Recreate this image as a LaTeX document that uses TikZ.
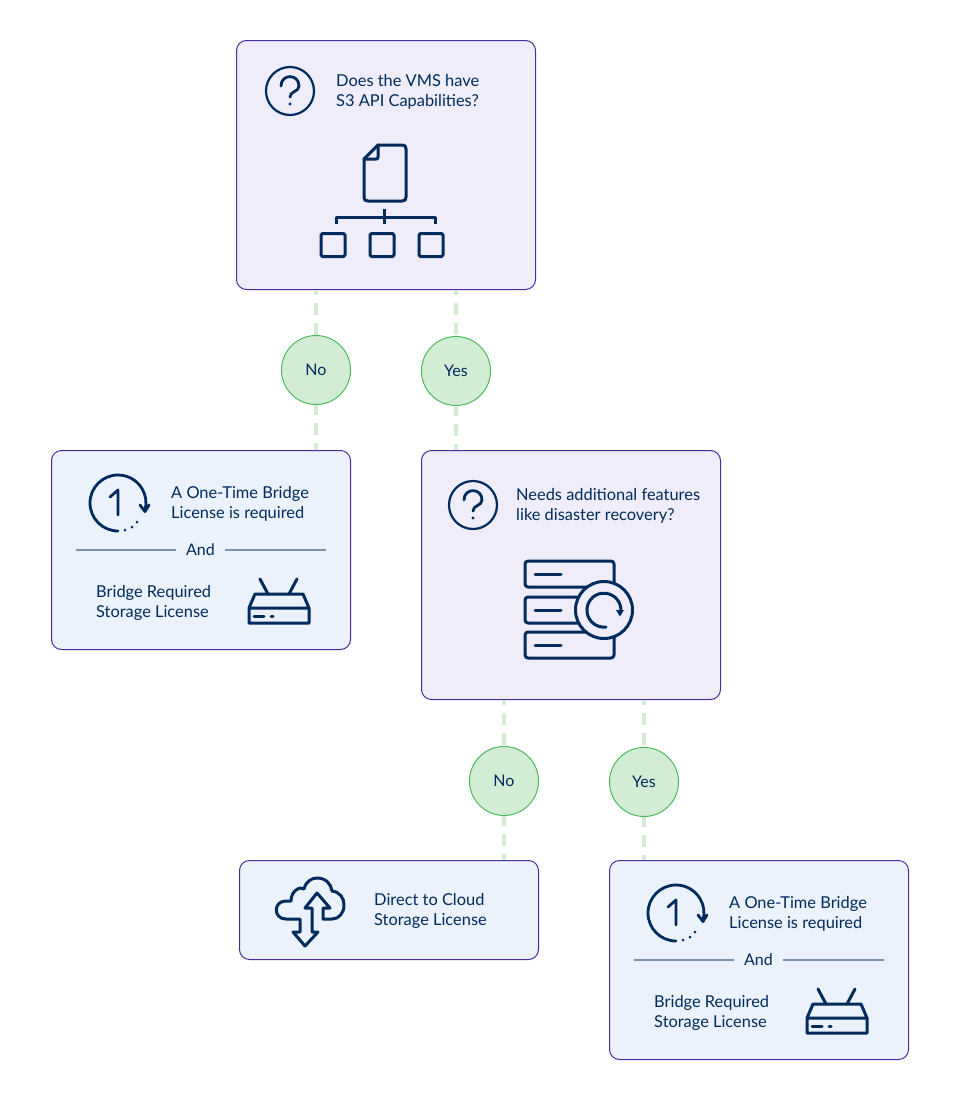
\documentclass[tikz,border=0pt]{standalone}
\usepackage{fontspec}
\setmainfont{Lato}
\usetikzlibrary{calc}
\definecolor{ink1}{RGB}{0, 43, 92}
\definecolor{edge1}{RGB}{75, 42, 160}
\definecolor{lilac1}{RGB}{239, 237, 249}
\definecolor{blue1}{RGB}{235, 242, 251}
\definecolor{green1}{RGB}{211, 237, 213}
\definecolor{green2}{RGB}{76, 184, 92}
\definecolor{rule1}{RGB}{124, 146, 174}
\tikzset{
  card/.style={draw=edge1, line width=1pt, rounded corners=10pt, anchor=north west, inner sep=0pt, minimum width=299pt},
  label1/.style={text=ink1, align=left, anchor=west, inner sep=0pt, font=\fontsize{16.4}{20}\selectfont},
  answer/.style={circle, draw=green2, fill=green1, line width=1pt, minimum size=69pt, inner sep=0pt, text=ink1, font=\fontsize{16}{20}\selectfont},
  dashline/.style={green1, line width=3.5pt, dash pattern=on 12pt off 8pt},
  icon/.style={ink1, line width=3pt, line cap=round, line join=round},
  thinicon/.style={ink1, line width=2.8pt, line cap=round, line join=round}
}
\begin{document}
\begin{tikzpicture}[x=1pt, y=-1pt]
  \useasboundingbox (0,0) rectangle (960,1100);
  \node[card, fill=lilac1, minimum height=249pt] (q1) at (236,40) {};
  \node[card, fill=lilac1, minimum height=249pt] (q2) at (421,450) {};
  \node[card, fill=blue1, minimum height=99pt] (cloud) at (239,860) {};

  \node[label1] (t1) at (336,92) {Does the VMS have\\S3 API Capabilities?};
  \node[label1] (t2) at (516,506) {Needs additional features\\like disaster recovery?};
  \node[label1] (t3) at (374,911) {Direct to Cloud\\Storage License};

  \node[answer] (no1) at (316,370) {No};
  \node[answer] (yes1) at (456,371) {Yes};
  \node[answer] (no2) at (504,781) {No};
  \node[answer] (yes2) at (644,782) {Yes};

  % the two license cards are the same
  \foreach \nm/\dx/\dy in {a/0/0, b/558/410} {
    \begin{scope}[shift={(\dx,\dy)}]
      \node[card, fill=blue1, minimum height=199pt] (lic\nm) at (51,450) {};
      \node[label1] (once\nm) at (171,504) {A One-Time Bridge\\License is required};
      \node[label1] (store\nm) at (96,603) {Bridge Required\\Storage License};
      \node[text=ink1, inner sep=0pt, minimum width=49pt, font=\fontsize{16}{20}\selectfont] (and\nm) at (200.5,550) {And};
      \coordinate (ruleL\nm) at (76,550);
      \coordinate (ruleR\nm) at (326,550);
      \draw[rule1, line width=1.5pt] (ruleL\nm) -- (and\nm);
      \draw[rule1, line width=1.5pt] (and\nm) -- (ruleR\nm);
      % clock
      \draw[thinicon] (118,531) arc[start angle=90, end angle=374, radius=28];
      \draw[thinicon] (140,505) -- (145,511.5) -- (149,505);
      \fill[ink1] (125,530) circle (1.5) (132,527) circle (1.5) (137,522) circle (1.5);
      \draw[thinicon] (110,497) -- (118,490) -- (118,515);
      % router
      \draw[icon] (249,608) -- (255,594) -- (303,594) -- (309,608) -- (309,623) -- (249,623) -- cycle (249,608) -- (309,608);
      \draw[icon] (268,594) -- (260,579) (289,594) -- (297,579);
      \draw[icon] (254,616) -- (264,616) (271,616) -- (273,616);
    \end{scope}
  }

  \foreach \a/\b/\c in {q1/no1/lica, q1/yes1/q2, q2/no2/cloud, q2/yes2/licb} {
    \draw[dashline, dash phase=7pt] (\a.south -| \b.north) -- (\b.north);
    \draw[dashline, dash phase=2pt] (\b.south) -- (\b.south |- \c.north);
  }

  % question marks
  \foreach \x/\y in {290/91, 473/505} {
    \begin{scope}[shift={(\x,\y)}]
      \draw[thinicon, line width=2.2pt] (0,0) circle (24);
      \draw[thinicon] (-9,-5) .. controls (-9,-17.5) and (9,-17.5) .. (9,-5) .. controls (9,1) and (0,0) .. (0,6);
      \fill[ink1] (0,13) circle (1.6);
    \end{scope}
  }

  % document tree
  \draw[icon] (378,145) -- (402,145) .. controls (405,145) and (406,146) .. (406,149) -- (406,197) .. controls (406,200) and (405,201) .. (402,201) -- (368,201) .. controls (365,201) and (364,200) .. (364,197) -- (364,159) -- cycle;
  \draw[icon] (378,145) -- (378,157) .. controls (378,159) and (378,159) .. (376,159) -- (364,159);
  \draw[icon, line cap=butt] (336,224) -- (336,217) -- (435,217) -- (435,224) (384,209) -- (384,224);
  \foreach \x in {321, 370, 419}
    \draw[icon, rounded corners=1.5pt] (\x,233.5) rectangle ++(24,23);

  % servers
  \foreach \y in {561, 597, 632} {
    \draw[icon, rounded corners=3pt] (525,\y) rectangle (614,\y+26);
    \draw[icon] (535,\y+13) -- (561,\y+13);
  }
  \draw[icon, fill=lilac1] (604,610) circle (28.5);
  \draw[icon] (606,627) arc[start angle=83, end angle=362, radius=17];
  \fill[ink1] (616,610) -- (624,610) -- (620,616.5) -- cycle;

  % cloud
  \draw[icon] (300,919) -- (286,919) .. controls (273,919) and (273,901) .. (286,901) .. controls (288,901) and (290,901) .. (291,901) .. controls (291,890) and (301,886) .. (304,889) .. controls (306,881) and (312,878) .. (317,878) .. controls (326,878) and (331,884) .. (332,891) .. controls (340,892) and (344,898) .. (344,905) .. controls (344,913) and (339,919) .. (332,919) -- (323,919) -- (323,908) -- (330,908) -- (317,893) -- (305,908) -- (312,908) -- (312,932) -- (318,932) -- (305,946) -- (293,932) -- (300,932) -- cycle;
\end{tikzpicture}
\end{document}
